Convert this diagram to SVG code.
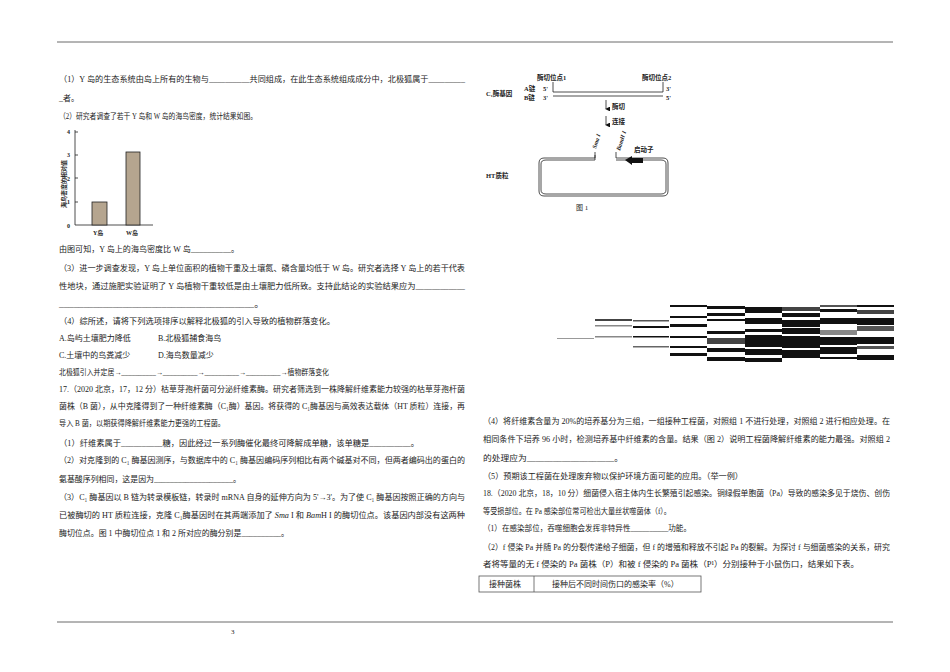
<svg xmlns="http://www.w3.org/2000/svg" width="950" height="672" viewBox="0 0 950 672">
<style>
text{font-family:"Liberation Serif","Noto Sans CJK SC",serif;font-size:8px;fill:#222}
.s{font-size:7px;font-weight:bold}
.ln{stroke:#222;stroke-width:0.8;fill:none}
.bk{fill:#111}
</style>
<defs><marker id="ah" markerWidth="6" markerHeight="6" refX="3" refY="5" orient="auto"><path d="M0,0 L6,0 L3,6z" fill="#111"/></marker></defs>
<rect width="950" height="672" fill="#fff"/>
<line x1="57" y1="42" x2="893" y2="42" stroke="#444" stroke-width="0.8"/>
<line x1="57" y1="622" x2="893" y2="622" stroke="#444" stroke-width="0.8"/>
<text x="231" y="634" style="font-size:7px">3</text>
<g id="left-text">
<text x="59" y="82" textLength="406" lengthAdjust="spacingAndGlyphs">（1）Y 岛的生态系统由岛上所有的生物与__________共同组成，在此生态系统组成成分中，北极狐属于_________</text>
<text x="59" y="101">_者。</text>
<text x="59" y="119" textLength="198" lengthAdjust="spacingAndGlyphs">（2）研究者调查了若干 Y 岛和 W 岛的海鸟密度，统计结果如图。</text>
<text x="59" y="252" textLength="180" lengthAdjust="spacingAndGlyphs">由图可知，Y 岛上的海鸟密度比 W 岛__________。</text>
<text x="59" y="271" textLength="406" lengthAdjust="spacingAndGlyphs">（3）进一步调查发现，Y 岛上单位面积的植物干重及土壤氮、磷含量均低于 W 岛。研究者选择 Y 岛上的若干代表</text>
<text x="59" y="289" textLength="406" lengthAdjust="spacingAndGlyphs">性地块，通过施肥实验证明了 Y 岛植物干重较低是由土壤肥力低所致。支持此结论的实验结果应为____________</text>
<text x="59" y="307" textLength="205" lengthAdjust="spacingAndGlyphs">________________________________________。</text>
<text x="59" y="324" textLength="276" lengthAdjust="spacingAndGlyphs">（4）综所述，请将下列选项排序以解释北极狐的引入导致的植物群落变化。</text>
<text x="59" y="341">A.岛屿土壤肥力降低</text><text x="158" y="341">B.北极狐捕食海鸟</text>
<text x="59" y="358">C.土壤中的鸟粪减少</text><text x="158" y="358">D.海鸟数量减少</text>
<text x="59" y="375" textLength="270" lengthAdjust="spacingAndGlyphs">北极狐引入并定居→__________→__________→__________→__________→植物群落变化</text>
<text x="59" y="392" textLength="406" lengthAdjust="spacingAndGlyphs">17.（2020 北京，17，12 分）枯草芽孢杆菌可分泌纤维素酶。研究者筛选到一株降解纤维素能力较强的枯草芽孢杆菌</text>
<text x="59" y="409" textLength="406" lengthAdjust="spacingAndGlyphs">菌株（B 菌），从中克隆得到了一种纤维素酶（C₁酶）基因。将获得的 C₁酶基因与高效表达载体（HT 质粒）连接，再</text>
<text x="59" y="426" textLength="166" lengthAdjust="spacingAndGlyphs">导入 B 菌，以期获得降解纤维素能力更强的工程菌。</text>
<text x="59" y="446" textLength="360" lengthAdjust="spacingAndGlyphs">（1）纤维素属于__________糖，因此经过一系列酶催化最终可降解成单糖，该单糖是__________。</text>
<text x="59" y="463" textLength="406" lengthAdjust="spacingAndGlyphs">（2）对克隆到的 C₁ 酶基因测序，与数据库中的 C₁ 酶基因编码序列相比有两个碱基对不同，但两者编码出的蛋白的</text>
<text x="59" y="482" textLength="182" lengthAdjust="spacingAndGlyphs">氨基酸序列相同，这是因为____________________。</text>
<text x="59" y="500" textLength="406" lengthAdjust="spacingAndGlyphs">（3）C₁ 酶基因以 B 链为转录模板链，转录时 mRNA 自身的延伸方向为 5'→3'。为了使 C₁ 酶基因按照正确的方向与</text>
<text x="59" y="518" textLength="406" lengthAdjust="spacingAndGlyphs">已被酶切的 HT 质粒连接，克隆 C₁酶基因时在其两端添加了 <tspan font-style="italic">Sma</tspan> I 和 <tspan font-style="italic">Bam</tspan>H I 的酶切位点。该基因内部没有这两种</text>
<text x="59" y="536" textLength="230" lengthAdjust="spacingAndGlyphs">酶切位点。图 1 中酶切位点 1 和 2 所对应的酶分别是__________。</text>
</g>
<g id="chart">
<line class="ln" x1="75" y1="130" x2="75" y2="225"/>
<line class="ln" x1="75" y1="225" x2="153" y2="225"/>
<g style="font-size:6px;font-weight:bold"><text x="67" y="134" style="font-size:6px">4</text><text x="67" y="157" style="font-size:6px">3</text><text x="67" y="181" style="font-size:6px">2</text><text x="67" y="204" style="font-size:6px">1</text><text x="67" y="228" style="font-size:6px">0</text></g>
<path class="ln" d="M75,132h3M75,155h3M75,178h3M75,202h3"/>
<rect x="92" y="202" width="15" height="23" fill="#b5a58f" stroke="#222" stroke-width="0.8"/>
<rect x="126" y="152" width="14" height="73" fill="#b5a58f" stroke="#222" stroke-width="0.8"/>
<text class="s" x="93" y="235" style="font-size:6px">Y岛</text><text class="s" x="126" y="235" style="font-size:6px">W岛</text>
<text class="s" transform="translate(66,208) rotate(-90)" style="font-size:6px">海鸟密度的相对值</text>
</g>
<g id="figure1">
<text class="s" x="537" y="80" style="font-size:6.5px">酶切位点1</text>
<text class="s" x="642" y="80" style="font-size:6.5px">酶切位点2</text>
<text class="s" x="486" y="96" style="font-size:6.5px">C₁酶基因</text>
<text class="s" x="524" y="91" style="font-size:6.5px">A链</text><text class="s" x="524" y="100" style="font-size:6.5px">B链</text>
<text class="s" x="543" y="91" style="font-size:6.5px">5'</text><text class="s" x="543" y="100" style="font-size:6.5px">3'</text>
<text class="s" x="666" y="91" style="font-size:6.5px">3'</text><text class="s" x="666" y="100" style="font-size:6.5px">5'</text>
<path class="ln" d="M553,82V92H663V82M553,96H663"/>
<line class="ln" x1="606" y1="100" x2="606" y2="109" stroke-width="1.5" marker-end="url(#ah)"/>
<text class="s" x="612" y="109" style="font-size:6.5px">酶切</text>
<line class="ln" x1="606" y1="116" x2="606" y2="125" stroke-width="1.5" marker-end="url(#ah)"/>
<text class="s" x="612" y="124" style="font-size:6.5px">连接</text>
<path class="ln" d="M595,152V158H544Q539,158 539,163V191Q539,196 544,196H663Q668,196 668,191V163Q668,158 663,158H616V152"/>
<path class="ln" d="M595,155V160H546Q541,160 541,164V190Q541,194 546,194H661Q666,194 666,190V164Q666,160 661,160H616"/>
<path class="bk" d="M625,160L632,156V158H643V163H632V165z"/>
<text class="s" transform="translate(596,149) rotate(-72)" style="font-size:6px;font-style:italic">Sma I</text>
<text class="s" transform="translate(620,151) rotate(-72)" style="font-size:6px;font-style:italic">BamH I</text>
<text class="s" x="634" y="152" style="font-size:6.5px">启动子</text>
<text class="s" x="486" y="178" style="font-size:6.5px">HT质粒</text>
<text x="576" y="210" style="font-size:7px">图 1</text>
</g>
<g id="glitch" fill="#111">
<rect x="633" y="320" width="36" height="1.5" fill="#555"/>
<rect x="633" y="326" width="36" height="2"/>
<rect x="633" y="336" width="36" height="1.5"/>
<rect x="633" y="346" width="36" height="1.5" fill="#666"/>
<rect x="670" y="305" width="37" height="2"/>
<rect x="670" y="316" width="37" height="2"/>
<rect x="670" y="324" width="37" height="3"/>
<rect x="670" y="336" width="37" height="2"/>
<rect x="670" y="346" width="37" height="2"/>
<rect x="670" y="353" width="37" height="3"/>
<rect x="707" y="306" width="38" height="3"/>
<rect x="707" y="313" width="38" height="3"/>
<rect x="707" y="319" width="38" height="2"/>
<rect x="707" y="331" width="38" height="3"/>
<rect x="707" y="338" width="38" height="6" fill="#444"/>
<rect x="707" y="348" width="38" height="4"/>
<rect x="707" y="357" width="38" height="4"/>
<rect x="745" y="307" width="37" height="6"/>
<rect x="745" y="318" width="37" height="6"/>
<rect x="745" y="329" width="37" height="3"/>
<rect x="745" y="335" width="37" height="12"/>
<rect x="745" y="349" width="37" height="6"/>
<rect x="745" y="358" width="37" height="4"/>
<rect x="782" y="307" width="38" height="4" fill="#444"/>
<rect x="782" y="313" width="38" height="4"/>
<rect x="782" y="320" width="38" height="7"/>
<rect x="782" y="328" width="38" height="6"/>
<rect x="782" y="336" width="38" height="12"/>
<rect x="782" y="350" width="38" height="8"/>
<rect x="820" y="305" width="37" height="2" fill="#555"/>
<rect x="820" y="309" width="37" height="3"/>
<rect x="820" y="318" width="37" height="6"/>
<rect x="820" y="330" width="37" height="5" fill="#888"/>
<rect x="820" y="337" width="37" height="8"/>
<rect x="820" y="347" width="37" height="7"/>
<rect x="820" y="357" width="37" height="2"/>
<rect x="857" y="305" width="37" height="2"/>
<rect x="857" y="310" width="37" height="4" fill="#444"/>
<rect x="857" y="318" width="37" height="7"/>
<rect x="857" y="326" width="37" height="5" fill="#555"/>
<rect x="857" y="337" width="37" height="7"/>
<rect x="857" y="346" width="37" height="3" fill="#555"/>
<rect x="857" y="355" width="37" height="5"/>
<rect x="595" y="319" width="37" height="2" fill="#444"/>
<rect x="595" y="325" width="37" height="1.5" fill="#888"/>
<rect x="595" y="336" width="37" height="1.5" fill="#888"/>
<rect x="557" y="338" width="37" height="1" fill="#999"/>
</g>
<g id="right-text">
<text x="483" y="424" textLength="407" lengthAdjust="spacingAndGlyphs">（4）将纤维素含量为 20%的培养基分为三组，一组接种工程菌，对照组 1 不进行处理，对照组 2 进行相应处理。在</text>
<text x="483" y="442" textLength="407" lengthAdjust="spacingAndGlyphs">相同条件下培养 96 小时，检测培养基中纤维素的含量。结果（图 2）说明工程菌降解纤维素的能力最强。对照组 2</text>
<text x="483" y="461" textLength="140" lengthAdjust="spacingAndGlyphs">的处理应为____________________。</text>
<text x="483" y="479" textLength="260" lengthAdjust="spacingAndGlyphs">（5）预期该工程菌在处理废弃物以保护环境方面可能的应用。（举一例）</text>
<text x="483" y="496" textLength="407" lengthAdjust="spacingAndGlyphs">18.（2020 北京，18，10 分）细菌侵入宿主体内生长繁殖引起感染。铜绿假单胞菌（Pa）导致的感染多见于烧伤、创伤</text>
<text x="483" y="514" textLength="188" lengthAdjust="spacingAndGlyphs">等受损部位。在 Pa 感染部位常可检出大量丝状噬菌体（f）。</text>
<text x="483" y="531" textLength="208" lengthAdjust="spacingAndGlyphs">（1）在感染部位，吞噬细胞会发挥非特异性__________功能。</text>
<text x="483" y="550" textLength="407" lengthAdjust="spacingAndGlyphs">（2）f 侵染 Pa 并随 Pa 的分裂传递给子细菌，但 f 的增殖和释放不引起 Pa 的裂解。为探讨 f 与细菌感染的关系，研究</text>
<text x="483" y="567" textLength="376" lengthAdjust="spacingAndGlyphs">者将等量的无 f 侵染的 Pa 菌株（P）和被 f 侵染的 Pa 菌株（P¹）分别接种于小鼠伤口，结果如下表。</text>
</g>
<g id="table">
<rect x="479" y="576" width="222" height="16" fill="none" stroke="#555" stroke-width="0.8"/>
<line x1="534" y1="576" x2="534" y2="592" stroke="#555" stroke-width="0.8"/>
<text x="489" y="587">接种菌株</text>
<text x="552" y="587">接种后不同时间伤口的感染率（%）</text>
</g>
</svg>
